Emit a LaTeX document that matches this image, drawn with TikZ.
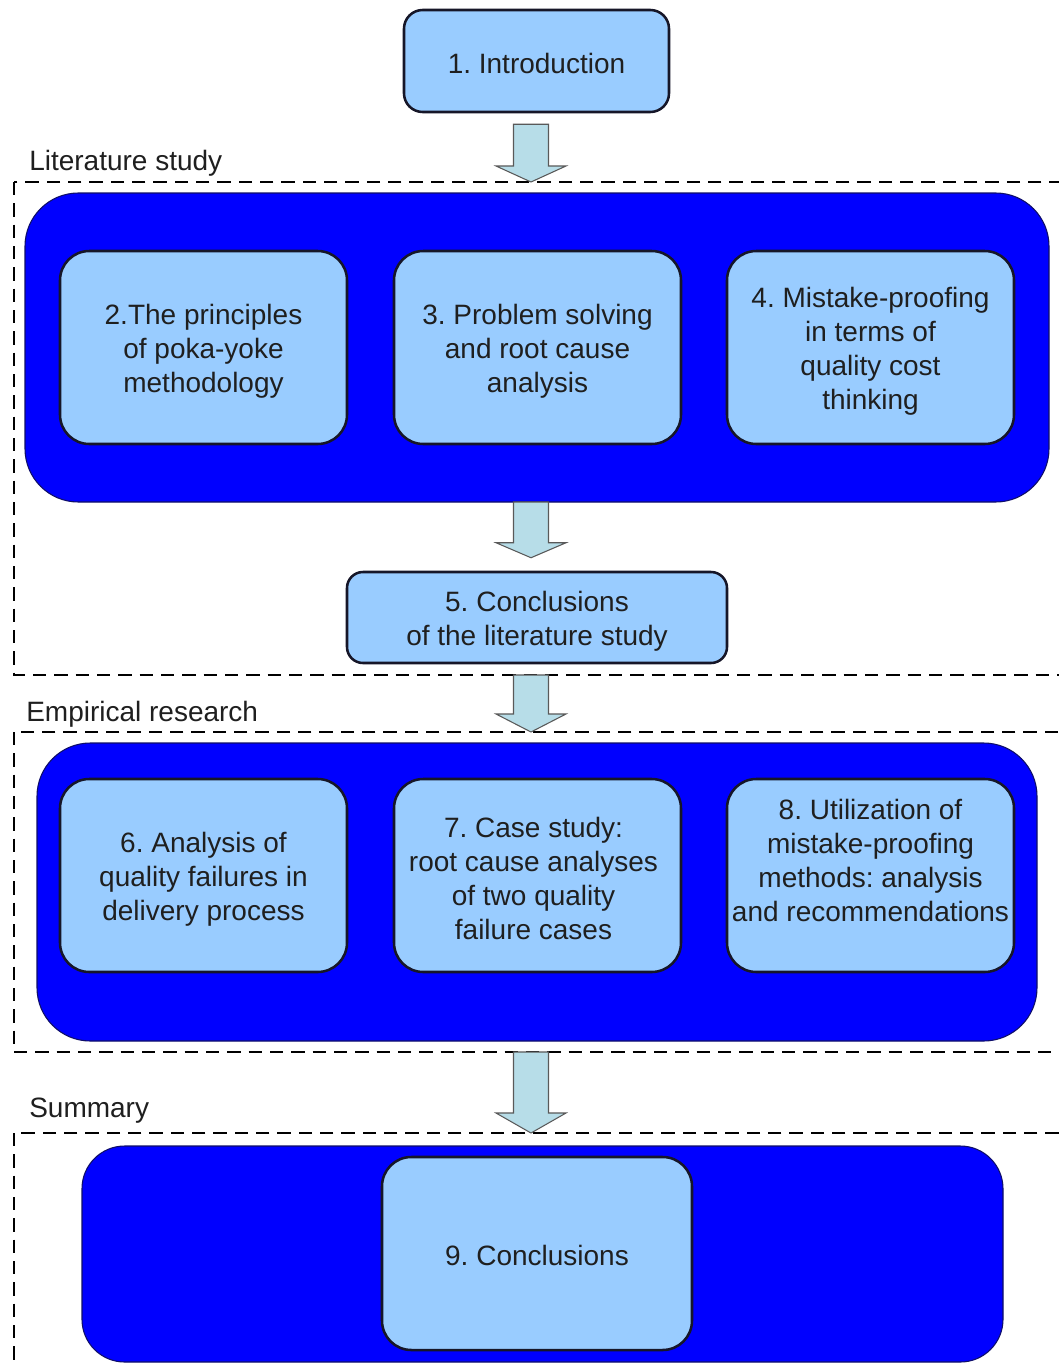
\documentclass[tikz,border=0pt]{standalone}
\usepackage{fontspec}
\setmainfont{Liberation Sans}
\usetikzlibrary{calc}
\frenchspacing
\definecolor{boxfill}{RGB}{153,204,255}
\definecolor{panelblue}{RGB}{0,0,255}
\definecolor{arrowfill}{RGB}{183,221,232}
\definecolor{edge}{RGB}{22,22,40}
\tikzset{
  every node/.style={font=\fontsize{21}{25.5}\selectfont, text=black!88},
  boxsize/.style 2 args={minimum width=#1*0.75pt, minimum height=#2*0.75pt},
  stepbox/.style={draw=edge, line width=1.9pt, fill=boxfill, rounded corners=22pt,
    inner sep=0pt},
  boxtext/.style={align=center, inner sep=0pt},
  panel/.style={draw=edge!70!blue, line width=0.8pt, fill=panelblue, rounded corners=38pt,
    inner sep=0pt},
  frame/.style={draw=black, dash pattern=on 10pt off 6pt, line width=1.5pt},
  grouplabel/.style={anchor=west, inner sep=0pt},
  flowarrow/.style={draw=black!65, line width=0.8pt, fill=arrowfill, line join=miter},
}
% block arrow from the top of its shaft #1 to its tip #2, head length #3
\newcommand\blockarrow[3]{%
  \draw[flowarrow] ($(#1)+(-17.5,0)$) -- ($(#1)+(17.5,0)$) -- ($(#2)+(17.5,-#3)$)
    -- ($(#2)+(35,-#3)$) -- (#2) -- ($(#2)+(-35,-#3)$) -- ($(#2)+(-17.5,-#3)$) -- cycle;}

\begin{document}
\begin{tikzpicture}[x=0.75pt, y=-0.75pt]
  \clip (0,0) rectangle (1059,1367);
  \fill[white] (0,0) rectangle (1059,1367);

  % dashed group frames
  \draw[frame] (14,182) rectangle (1080,675);
  \draw[frame] (14,732) rectangle (1080,1052);
  \draw[frame] (14,1133) rectangle (1080,1400);

  % group labels
  \node[grouplabel] (litlabel) at (29,163) {Literature study};
  \node[grouplabel] (emplabel) at (26,714) {Empirical research};
  \node[grouplabel] (sumlabel) at (29,1111) {Summary};

  % blue panels
  \node[panel, boxsize={1024}{309}, rounded corners=40pt] (litpanel) at (537,347.5) {};
  \node[panel, boxsize={1000}{298}, rounded corners=40pt] (emppanel) at (537,892) {};
  \node[panel, boxsize={921}{216}, rounded corners=32pt] (sumpanel) at (542.5,1254) {};

  % chapter boxes
  \node[stepbox, boxsize={265}{102}, rounded corners=14pt] (intro) at (536.5,61) {};
  \node[stepbox, boxsize={287}{193}] (ch2) at (203.5,347.5) {};
  \node[stepbox, boxsize={287}{193}] (ch3) at (537.5,347.5) {};
  \node[stepbox, boxsize={287}{193}] (ch4) at (870.5,347.5) {};
  \node[stepbox, boxsize={380}{91}, rounded corners=12pt] (ch5) at (537,617.5) {};
  \node[stepbox, boxsize={287}{193}] (ch6) at (203.5,875.5) {};
  \node[stepbox, boxsize={287}{193}] (ch7) at (537.5,875.5) {};
  \node[stepbox, boxsize={287}{193}] (ch8) at (870.5,875.5) {};
  \node[stepbox, boxsize={310}{193}] (ch9) at (537,1253.5) {};

  % chapter titles
  \node[boxtext] (introt) at ($(intro)+(0,2)$) {1. Introduction};
  \node[boxtext] (ch2t) at ($(ch2)+(0,4)$) {2.The principles\\of poka-yoke\\methodology};
  \node[boxtext] (ch3t) at ($(ch3)+(0,4)$) {3. Problem solving\\and root cause\\analysis};
  \node[boxtext] (ch4t) at ($(ch4)+(0,4)$) {4. Mistake-proofing\\in terms of\\quality cost\\thinking};
  \node[boxtext] (ch5t) at ($(ch5)+(0,4)$) {5. Conclusions\\of the literature study};
  \node[boxtext] (ch6t) at ($(ch6)+(0,4)$) {6. Analysis of\\quality failures in\\delivery process};
  \node[boxtext] (ch7t) at ($(ch7)+(-4,3)$) {7. Case study:\\root cause analyses\\of two quality\\failure cases};
  \node[boxtext] (ch8t) at ($(ch8)+(0,-15)$) {8. Utilization of\\mistake-proofing\\methods: analysis\\and recommendations};
  \node[boxtext] (ch9t) at ($(ch9)+(0,1.5)$) {9. Conclusions};

  % flow arrows
  \coordinate (a1s) at ($(intro.south)+(-5.5,11)$);
  \coordinate (a1e) at (531,182);
  \blockarrow{a1s}{a1e}{16}

  \coordinate (a2s) at (531,502);
  \coordinate (a2e) at ($(ch5.north)+(-6,-13)$);
  \blockarrow{a2s}{a2e}{15}

  \coordinate (a3s) at (531,675);
  \coordinate (a3e) at (531,732);
  \blockarrow{a3s}{a3e}{18}

  \coordinate (a4s) at (531,1052);
  \coordinate (a4e) at (531,1133);
  \blockarrow{a4s}{a4e}{20}
\end{tikzpicture}
\end{document}
